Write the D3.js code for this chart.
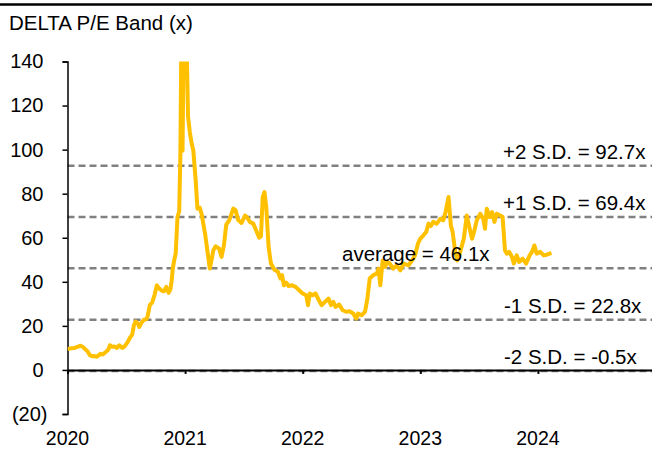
<!DOCTYPE html>
<html>
<head>
<meta charset="utf-8">
<script src="https://cdn.jsdelivr.net/npm/d3@7"></script>
<style>
  html, body { margin: 0; padding: 0; background: #fff; }
  svg { display: block; font-family: "Liberation Sans", Arial, sans-serif; }
</style>
</head>
<body>
<svg id="chart" width="652" height="449"></svg>
<script>
const title = "DELTA P/E Band (x)";
const years = [
  2020.00,2020.03,2020.06,2020.09,2020.11,2020.13,2020.15,2020.17,2020.19,2020.21,2020.23,2020.25,2020.28,2020.30,2020.32,2020.34,2020.35,2020.36,2020.38,2020.40,
  2020.42,2020.44,2020.46,2020.47,2020.49,2020.51,2020.53,2020.55,2020.565,2020.58,2020.60,2020.61,2020.63,2020.65,2020.67,2020.68,2020.70,2020.72,2020.74,2020.76,
  2020.78,2020.80,2020.82,2020.84,2020.86,2020.875,2020.885,2020.895,2020.91,2020.92,2020.935,2020.95,2020.96,2020.968,2020.978,2020.988,2021.00,2021.012,2021.025,2021.04,
  2021.055,2021.07,2021.09,2021.105,2021.125,2021.14,2021.17,2021.21,2021.225,2021.24,2021.26,2021.29,2021.31,2021.33,2021.35,2021.375,2021.41,2021.43,2021.45,2021.48,
  2021.51,2021.53,2021.55,2021.58,2021.61,2021.63,2021.645,2021.66,2021.675,2021.69,2021.71,2021.73,2021.76,2021.79,2021.81,2021.825,2021.84,2021.86,2021.88,2021.91,
  2021.94,2021.97,2022.00,2022.03,2022.045,2022.06,2022.085,2022.11,2022.13,2022.16,2022.19,2022.22,2022.24,2022.26,2022.28,2022.31,2022.34,2022.37,2022.40,2022.43,
  2022.455,2022.47,2022.50,2022.53,2022.55,2022.57,2022.60,2022.63,2022.645,2022.66,2022.68,2022.70,2022.72,2022.74,2022.77,2022.80,2022.83,2022.86,2022.90,2022.93,
  2022.955,2022.98,2023.00,2023.025,2023.05,2023.07,2023.09,2023.11,2023.14,2023.17,2023.195,2023.215,2023.24,2023.26,2023.275,2023.295,2023.315,2023.34,2023.37,2023.395,
  2023.42,2023.44,2023.46,2023.48,2023.51,2023.535,2023.55,2023.565,2023.59,2023.61,2023.63,2023.65,2023.68,2023.70,2023.72,2023.735,2023.755,2023.78,2023.795,2023.82,
  2023.84,2023.87,2023.90,2023.93,2023.95,2023.97,2023.99,2024.02,2024.05,2024.075,2024.10,2024.115
];
const peValues = [
  9.5,9.8,10.0,10.6,11.0,10.5,9.4,8.5,6.7,6.2,6.3,6.0,7.3,7.0,7.9,8.8,9.6,11.2,10.5,10.6,
  10.0,11.2,10.2,10.0,11.0,12.5,14.5,16.0,20.3,22.0,21.0,19.5,21.5,22.8,23.0,24.0,29.4,30.6,34.0,38.4,
  37.0,36.0,35.7,37.7,35.0,36.5,40.0,46.0,50.5,52.8,69.4,72.0,98.0,150,99.5,150,135,150,115,108,
  103,99.6,86,73.2,73.6,70.9,61.8,46.0,50,54.3,56.1,55.0,51.3,56.5,66.0,67.9,73.2,72.4,68.2,66.7,
  70.1,69.1,67.2,66.4,62.6,60.0,60.6,78.5,80.7,74.0,55.8,48.3,45.5,44.5,41.5,43.0,38.4,39.6,38.1,38.4,
  37.7,36.2,34.7,33.9,29.4,34.7,33.9,34.7,32.4,29.4,30.9,32.4,29.4,30.9,28.6,29.7,27.1,26.4,26.6,25.6,
  23.3,25.6,24.8,26.4,32.4,41.5,43.0,43.7,46.0,38.4,49.7,46.8,49.0,48.3,46.0,47.5,45.2,48.3,47.5,49.7,
  52.0,57.3,59.6,61.0,62.6,66.4,65.3,67.2,66.4,68.6,67.9,71.7,78.5,65.6,62.6,54.3,49.7,53.6,59.6,70.1,
  64.1,59.6,63.3,67.9,70.9,68.6,64.1,73.2,69.4,71.7,67.2,70.9,70.1,69.4,54.3,52.8,53.6,51.3,48.3,52.0,
  49.0,50.5,48.3,52.0,53.6,56.5,52.8,53.6,52.0,52.3,52.8,53.1
];
const bandValues = [92.7, 69.4, 46.1, 22.8, -0.5];
const bandLabels = ["+2 S.D. = 92.7x", "+1 S.D. = 69.4x", "average = 46.1x", "-1 S.D. = 22.8x", "-2 S.D. = -0.5x"];
const yTicks = [-20, 0, 20, 40, 60, 80, 100, 120, 140];
const xTicks = [2020, 2021, 2022, 2023, 2024];
const xTickLabels = ["2020", "2021", "2022", "2023", "2024"];

const svg = d3.select("#chart");
const x = d3.scaleLinear().domain([2020, 2025]).range([67.5, 655.5]);
const y = d3.scaleLinear().domain([-20, 140]).range([414, 61.5]);

// header rule
svg.append("line").attr("x1", 0).attr("x2", 652).attr("y1", 4.5).attr("y2", 4.5)
  .attr("stroke", "#000").attr("stroke-width", 2.5);

svg.append("text").attr("x", 9).attr("y", 30).attr("font-size", 20.5).attr("fill", "#000").text(title);

// band lines
svg.append("g").selectAll("line").data(bandValues).join("line")
  .attr("x1", x(2020)).attr("x2", 652)
  .attr("y1", d => y(d)).attr("y2", d => y(d))
  .attr("stroke", "#808080").attr("stroke-width", 2.5).attr("stroke-dasharray", "7,4");

// y axis
const yAxis = svg.append("g").attr("transform", `translate(${x(2020)},0)`)
  .call(d3.axisLeft(y).tickValues(yTicks).tickSize(5).tickPadding(15)
    .tickFormat(d => d < 0 ? `(${-d})` : d));
yAxis.select(".domain").attr("stroke", "#000").attr("stroke-width", 1.5);
yAxis.selectAll(".tick line").attr("stroke", "#000").attr("stroke-width", 1.5);
yAxis.selectAll(".tick text").attr("font-size", 20).attr("fill", "#000")
  .attr("font-family", "'Liberation Sans', Arial, sans-serif")
  .attr("dx", d => d < 0 ? 0 : -4);

// x axis at zero
const xAxis = svg.append("g").attr("transform", `translate(0,${y(0)})`)
  .call(d3.axisBottom(x).tickValues(xTicks).tickSize(4).tickSizeOuter(0).tickFormat(""));
xAxis.select(".domain").attr("stroke", "#000").attr("stroke-width", 2);
xAxis.selectAll(".tick line").attr("stroke", "#000").attr("stroke-width", 2);

svg.append("g").selectAll("text").data(xTicks).join("text")
  .attr("x", d => x(d)).attr("y", 445).attr("text-anchor", "middle")
  .attr("font-size", 19.5).attr("fill", "#000")
  .text((d, i) => xTickLabels[i]);

// clip
svg.append("clipPath").attr("id", "plotclip").append("rect")
  .attr("x", x(2020)).attr("y", y(140)).attr("width", 652).attr("height", y(-20) - y(140));

const pts = years.map((yr, i) => [yr, peValues[i]]);
svg.append("path").datum(pts)
  .attr("clip-path", "url(#plotclip)")
  .attr("fill", "none").attr("stroke", "#FFC000").attr("stroke-width", 4)
  .attr("stroke-linejoin", "round")
  .attr("d", d3.line().x(d => x(d[0])).y(d => y(d[1])));

// band labels
const labelX = [503, 503, 342, 504, 504];
svg.append("g").selectAll("text").data(bandValues).join("text")
  .attr("x", (d, i) => labelX[i]).attr("y", d => y(d) - 7)
  .attr("font-size", 20.5).attr("fill", "#000")
  .text((d, i) => bandLabels[i]);
</script>
</body>
</html>
